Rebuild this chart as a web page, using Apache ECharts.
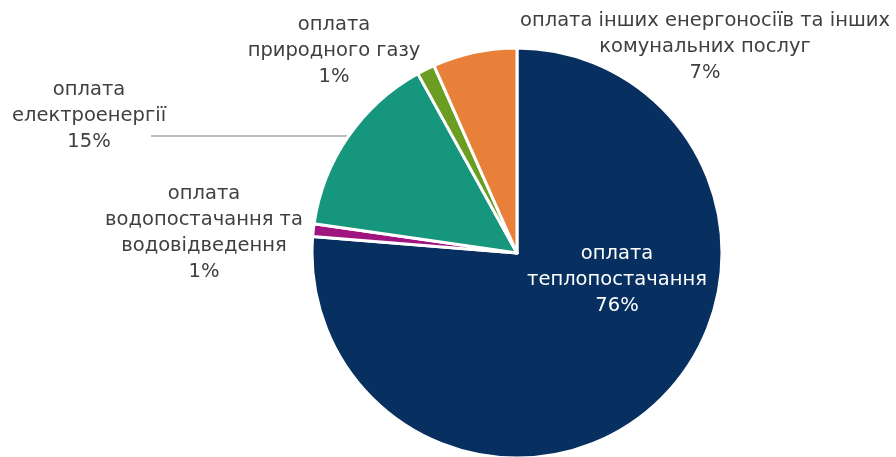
<!DOCTYPE html>
<html><head><meta charset="utf-8">
<script src="https://cdn.jsdelivr.net/npm/echarts@6/dist/echarts.min.js"></script>
<style>html,body{margin:0;padding:0;background:#fff}#c{width:896px;height:457px}</style>
</head><body><div id="c"></div>
<script>
const categories = [
  'оплата\nтеплопостачання',
  'оплата\nводопостачання та\nводовідведення',
  'оплата\nелектроенергії',
  'оплата\nприродного газу',
  'оплата інших енергоносіїв та інших\nкомунальних послуг'
];
const values = [75.9, 1.0, 14.6, 1.4, 6.6];
const colors = ['#072F5F', '#A0147F', '#16967C', '#6A9D22', '#E8803A'];
const labelPos = [[617, 280], [204, 233], [89, 116], [334, 51], [705, 47]];

const chart = echarts.init(document.getElementById('c'));
chart.setOption({
  animation: false,
  series: [{
    type: 'pie',
    center: [517, 253],
    radius: 205,
    startAngle: 90,
    clockwise: true,
    percentPrecision: 0,
    itemStyle: { borderColor: '#fff', borderWidth: 3 },
    label: {
      show: true,
      formatter: '{b}\n{d}%',
      fontFamily: 'DejaVu Sans',
      fontSize: 19.5,
      lineHeight: 26,
      color: '#404040',
      align: 'center'
    },
    labelLine: { show: false },
    labelLayout: function (p) {
      const pos = labelPos[p.dataIndex];
      const out = { x: pos[0], y: pos[1], align: 'center', verticalAlign: 'middle' };
      if (p.dataIndex === 2) out.labelLinePoints = [[347, 136], [250, 136], [151, 136]];
      return out;
    },
    data: categories.map((c, i) => ({
      name: c,
      value: values[i],
      itemStyle: { color: colors[i] },
      label: i === 0 ? { color: '#ffffff' } : {},
      labelLine: i === 2 ? { show: true, lineStyle: { color: '#A6A6A6', width: 1.5 } } : { show: false }
    }))
  }]
});
</script></body></html>
